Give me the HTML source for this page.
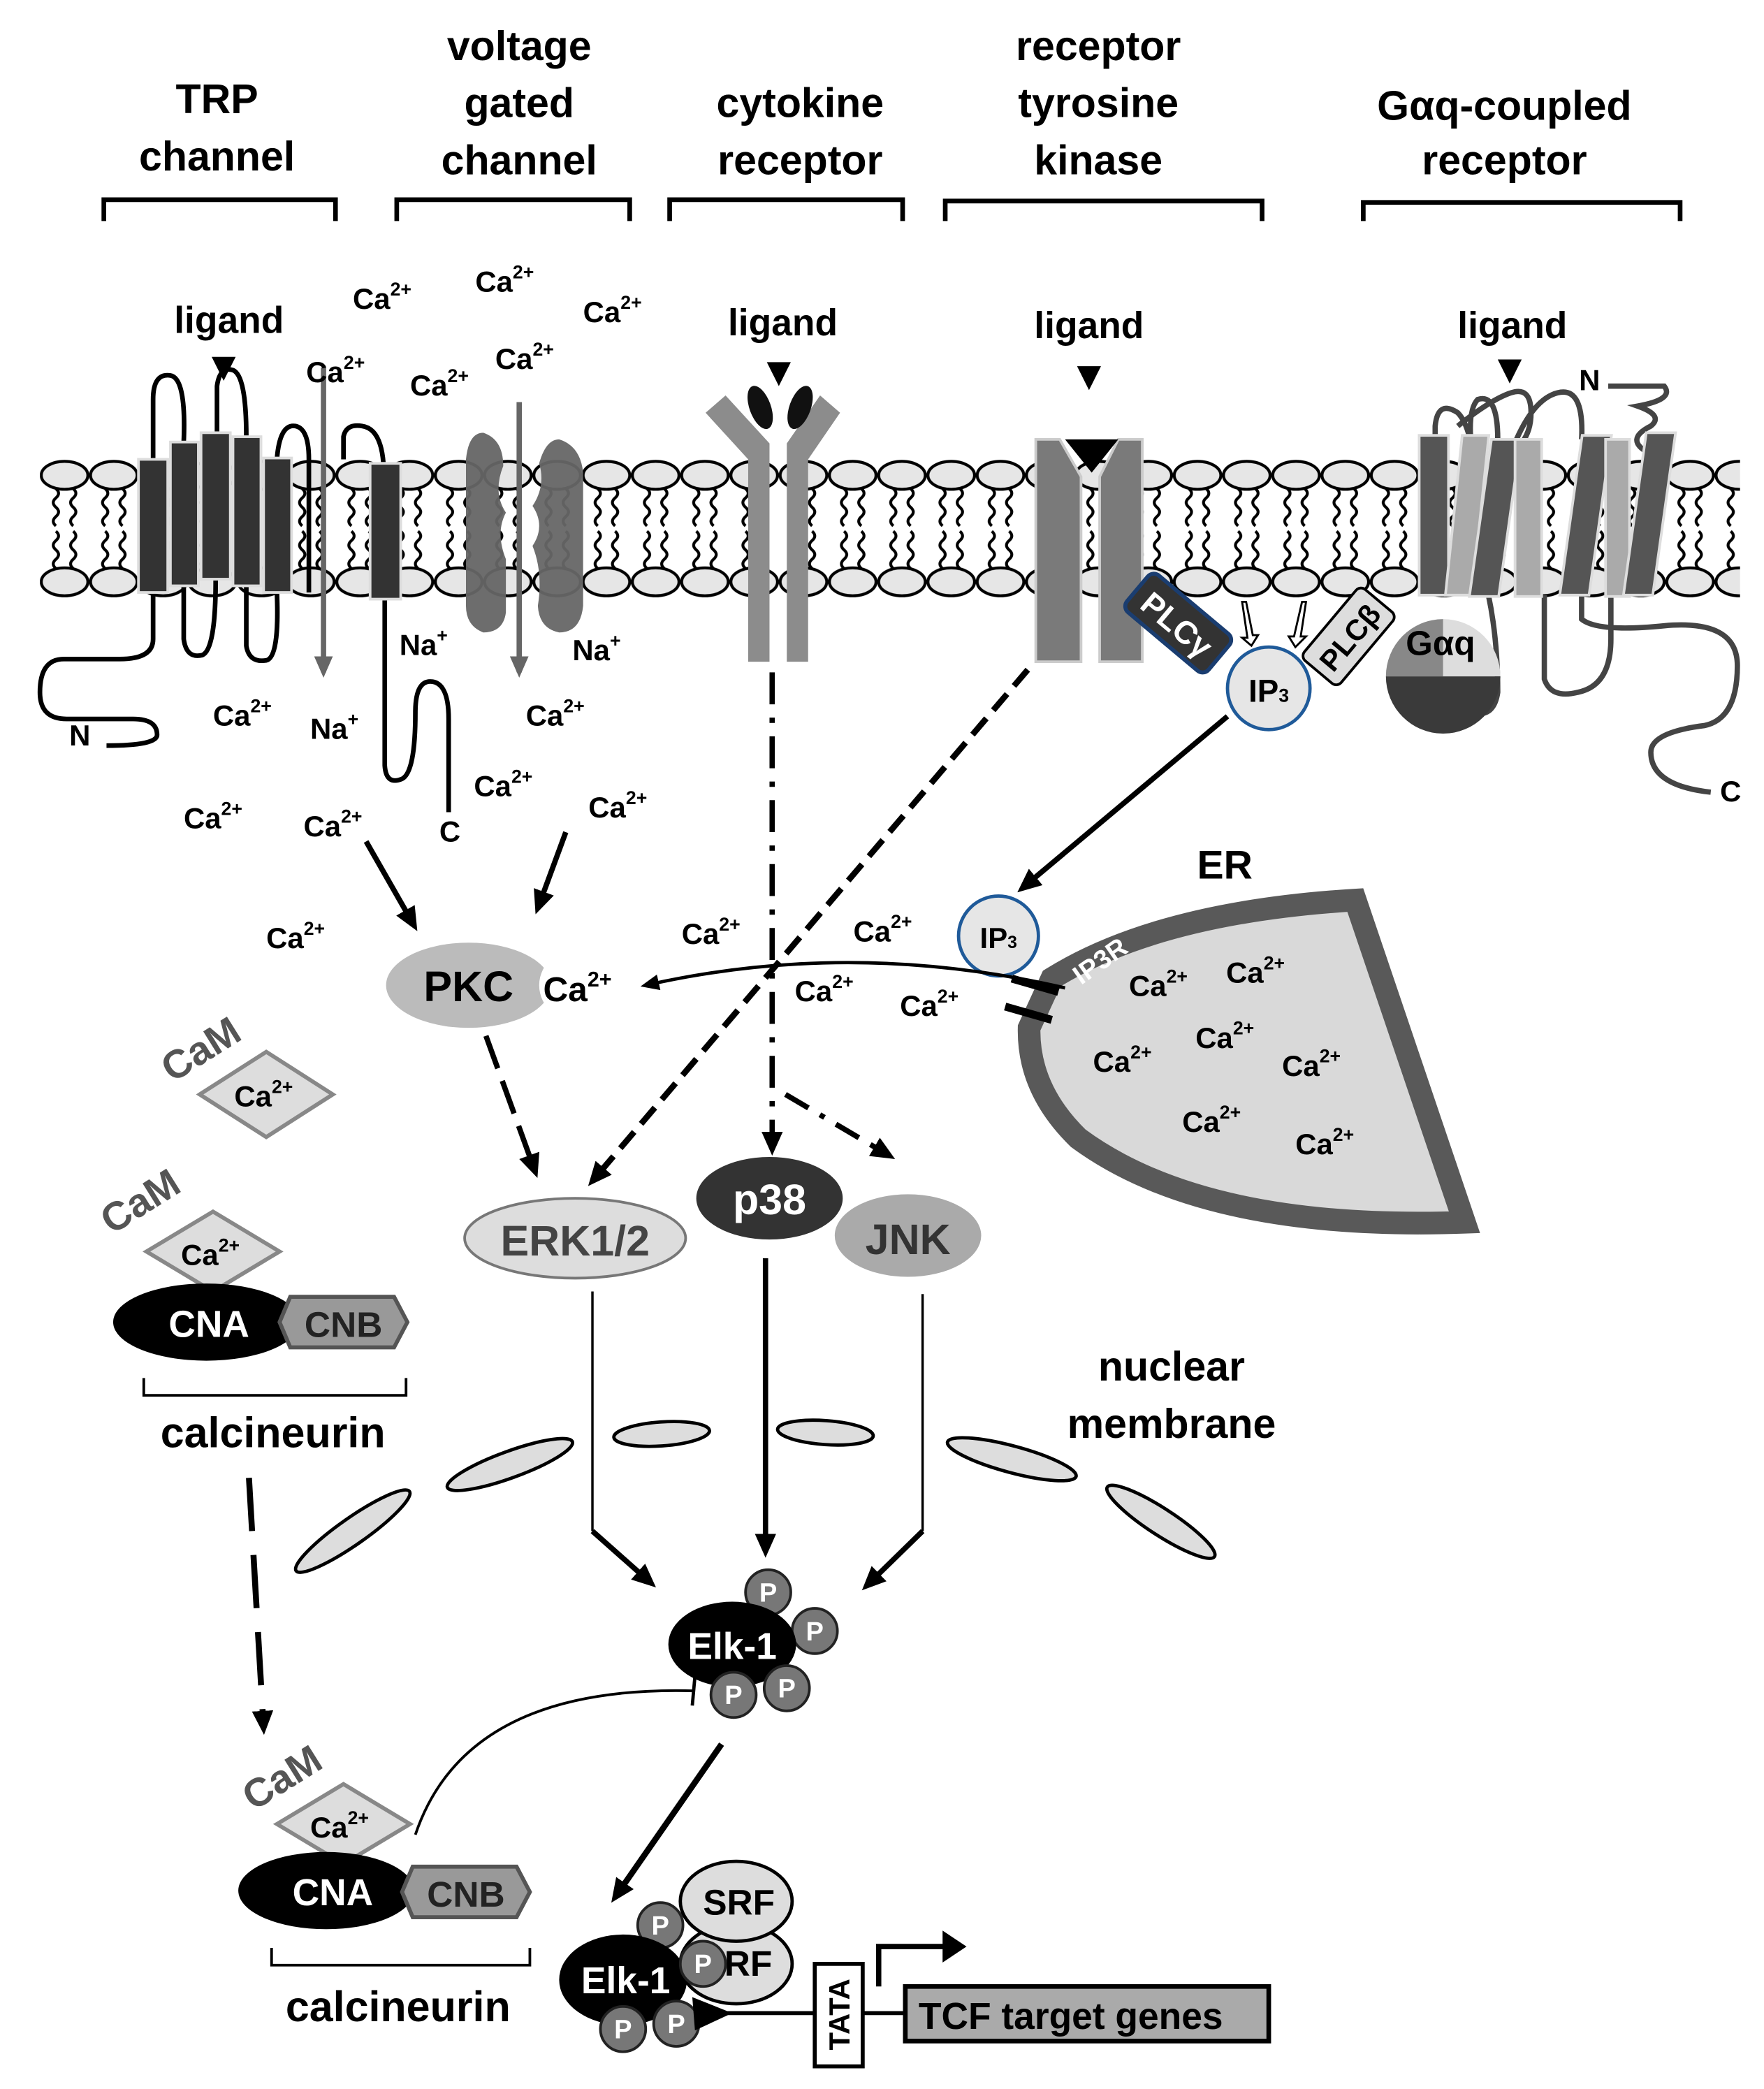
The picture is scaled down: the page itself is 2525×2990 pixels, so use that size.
<!DOCTYPE html>
<html><head><meta charset="utf-8"><style>
html,body{margin:0;padding:0;background:#fff}
svg{display:block}
text{font-family:"Liberation Sans",Arial,sans-serif;font-weight:bold}
.h{font-size:31px;text-anchor:middle}
.c{font-size:22px}
.c tspan{font-size:14px}
.l{font-size:28px;text-anchor:middle}
</style></head><body>
<svg width="2525" height="2990" viewBox="0 0 1325 1569" xmlns="http://www.w3.org/2000/svg">
<defs>
<pattern id="mem" patternUnits="userSpaceOnUse" x="30" y="345" width="37" height="104">
<path d="M12,22 q4,3.5 0,7 q-4,3.5 0,7 q4,3.5 0,7 q-4,3.5 0,7 M25,22 q4,3.5 0,7 q-4,3.5 0,7 q4,3.5 0,7 q-4,3.5 0,7 M12,54 q4,3.5 0,7 q-4,3.5 0,7 q4,3.5 0,7 q-4,3.5 0,7 M25,54 q4,3.5 0,7 q-4,3.5 0,7 q4,3.5 0,7 q-4,3.5 0,7" fill="none" stroke="#000" stroke-width="2.2"/>
<ellipse cx="18.5" cy="12" rx="17.5" ry="10.5" fill="#e6e6e6" stroke="#000" stroke-width="2.2"/>
<ellipse cx="18.5" cy="92" rx="17.5" ry="10.5" fill="#e6e6e6" stroke="#000" stroke-width="2.2"/>
</pattern>
<marker id="ah" markerWidth="18" markerHeight="16" refX="13" refY="8" orient="auto" markerUnits="userSpaceOnUse"><path d="M0,0 L18,8 L0,16 Z" fill="#000"/></marker>
<marker id="ahs" markerWidth="14" markerHeight="12" refX="10" refY="6" orient="auto" markerUnits="userSpaceOnUse"><path d="M0,0 L14,6 L0,12 Z" fill="#000"/></marker>
<marker id="ahg" markerWidth="16" markerHeight="14" refX="12" refY="7" orient="auto" markerUnits="userSpaceOnUse"><path d="M0,0 L16,7 L0,14 Z" fill="#666"/></marker>
</defs>

<!-- headers -->
<text class="h" x="163" y="85">TRP</text><text class="h" x="163" y="128">channel</text>
<text class="h" x="390" y="45">voltage</text><text class="h" x="390" y="88">gated</text><text class="h" x="390" y="131">channel</text>
<text class="h" x="601" y="88">cytokine</text><text class="h" x="601" y="131">receptor</text>
<text class="h" x="825" y="45">receptor</text><text class="h" x="825" y="88">tyrosine</text><text class="h" x="825" y="131">kinase</text>
<text class="h" x="1130" y="90">Gαq-coupled</text><text class="h" x="1130" y="131">receptor</text>
<g fill="none" stroke="#000" stroke-width="3.5">
<path d="M78,166 V150 H252 V166"/><path d="M298,166 V150 H473 V166"/><path d="M503,166 V150 H678 V166"/><path d="M710,166 V151 H948 V166"/><path d="M1024,166 V152 H1262 V166"/>
</g>
<text class="l" x="172" y="250">ligand</text><text class="l" x="588" y="252">ligand</text><text class="l" x="818" y="254">ligand</text><text class="l" x="1136" y="254">ligand</text>
<g fill="#000"><path d="M159,268 h18 l-9,18z"/><path d="M576,272 h18 l-9,18z"/><path d="M809,275 h18 l-9,18z"/><path d="M1125,270 h18 l-9,18z"/></g>

<!-- membrane -->
<rect x="30" y="345" width="1277" height="104" fill="url(#mem)"/>

<!-- TRP channel -->
<g fill="none" stroke="#000" stroke-width="3.5">
<path d="M115,345 V300 Q115,280 128,282 Q140,284 138,332"/>
<path d="M163,325 V290 Q165,275 175,278 Q185,282 185,328"/>
<path d="M138,440 V480 Q140,495 152,492 Q162,488 162,435"/>
<path d="M185,440 V485 Q187,498 200,496 Q210,494 208,445"/>
<path d="M208,345 Q210,318 222,320 Q232,322 232,345 V445"/>
<path d="M258,345 V328 Q260,318 272,320 Q286,322 288,348"/>
<path d="M115,445 V480 Q115,495 90,495 H48 Q30,495 30,520 Q30,540 50,540 H100 Q118,540 118,552 Q118,560 80,560"/>
<path d="M289,450 V575 Q290,590 302,585 Q312,580 312,535 Q312,510 325,512 Q337,514 337,540 V610"/>
</g>
<g fill="#333" stroke="#ddd" stroke-width="2">
<rect x="104" y="345" width="22" height="100"/><rect x="128" y="332" width="21" height="108"/><rect x="151" y="325" width="22" height="110"/><rect x="175" y="328" width="21" height="112"/><rect x="198" y="344" width="21" height="101"/><rect x="278" y="348" width="23" height="102"/>
</g>
<line x1="243" y1="276" x2="243" y2="505" stroke="#666" stroke-width="4" marker-end="url(#ahg)"/>
<!-- voltage gated -->
<g fill="#666" opacity="0.95">
<path d="M350,345 Q352,325 363,325 Q378,330 378,350 Q370,370 380,385 Q372,400 380,420 V460 Q378,475 363,475 Q350,470 350,455 Z"/>
<path d="M405,348 Q410,330 420,330 Q436,335 438,355 V455 Q436,475 420,475 Q405,472 404,455 Q408,430 400,410 Q410,395 400,380 Q410,365 405,348 Z"/>
</g>
<line x1="390" y1="302" x2="390" y2="505" stroke="#666" stroke-width="4" marker-end="url(#ahg)"/>
<!-- cytokine -->
<g fill="#8c8c8c">
<path d="M530,310 L545,297 L578,333 V497 H562 V345 Z"/>
<path d="M631,310 L616,297 L591,333 V497 H607 V345 Z"/>
</g>
<ellipse cx="571" cy="306" rx="8" ry="17" transform="rotate(-20 571 306)" fill="#111"/>
<ellipse cx="601" cy="306" rx="8" ry="17" transform="rotate(20 601 306)" fill="#111"/>
<!-- RTK -->
<g fill="#7a7a7a" stroke="#ccc" stroke-width="2">
<path d="M778,330 H796 L812,358 V497 H778 Z"/><path d="M858,330 H840 L826,358 V497 H858 Z"/>
</g>
<path d="M800,330 H840 L820,355 Z" fill="#000"/>
<!-- PLC -->
<g transform="rotate(40 885 468)"><rect x="845" y="450" width="80" height="36" rx="6" fill="#333" stroke="#1a3d70" stroke-width="3"/><text x="885" y="478" font-size="24" fill="#fff" text-anchor="middle">PLCγ</text></g>
<g transform="rotate(-50 1013 478)"><rect x="978" y="460" width="70" height="36" rx="5" fill="#ddd" stroke="#000" stroke-width="2"/><text x="1013" y="487" font-size="22" text-anchor="middle">PLCβ</text></g>
<g fill="#fff" stroke="#000" stroke-width="1.5"><path d="M933,452 l3,0 l5,25 l4,0 l-5,8 l-7,-6 l4,0 z"/><path d="M978,452 l3,0 l-4,26 l4,0 l-8,8 l-5,-8 l4,0 z"/></g>
<circle cx="953" cy="517" r="31" fill="#e6e6e6" stroke="#1f5a99" stroke-width="2.5"/>
<text x="953" y="527" font-size="24" text-anchor="middle">IP<tspan font-size="14">3</tspan></text>
<!-- GPCR -->
<g fill="none" stroke="#444" stroke-width="4">
<path d="M1078,340 V320 Q1080,300 1095,310 Q1105,320 1108,355 Q1100,310 1110,300 Q1125,295 1125,330"/>
<path d="M1095,320 Q1120,300 1135,295 Q1150,290 1150,310 Q1150,330 1135,340 Q1150,300 1170,295 Q1190,290 1188,330"/>
<path d="M1208,290 H1250 Q1258,300 1230,305 Q1250,312 1240,320 Q1220,330 1238,340"/>
<path d="M1118,447 Q1125,480 1125,520 Q1122,540 1105,535"/>
<path d="M1160,447 V510 Q1165,525 1185,520 Q1210,515 1210,480 V447"/>
<path d="M1188,447 V465 Q1200,475 1250,470 Q1305,465 1305,500 Q1305,540 1280,545 Q1240,550 1240,565 Q1240,590 1285,595"/>
</g>
<g stroke="#ddd" stroke-width="2">
<rect x="1066" y="327" width="22" height="120" fill="#555"/>
<rect x="1092" y="327" width="20" height="120" fill="#aaa" transform="skewX(-6)" transform-origin="1100 387"/>
<rect x="1112" y="330" width="22" height="118" fill="#555" transform="skewX(-8)" transform-origin="1123 389"/>
<rect x="1138" y="330" width="20" height="118" fill="#aaa"/>
<rect x="1180" y="327" width="22" height="120" fill="#555" transform="skewX(-8)" transform-origin="1191 387"/>
<rect x="1206" y="330" width="18" height="118" fill="#aaa"/>
<rect x="1228" y="325" width="22" height="122" fill="#555" transform="skewX(-8)" transform-origin="1239 386"/>
</g>
<path d="M1041,508 A43,43 0 0 1 1084,465 V508 Z" fill="#888"/>
<path d="M1084,465 A43,43 0 0 1 1127,508 H1084 Z" fill="#ddd"/>
<path d="M1041,508 A43,43 0 0 0 1127,508 Z" fill="#3a3a3a"/>
<text x="1082" y="492" font-size="26" text-anchor="middle">Gαq</text>

<!-- labels -->
<g>
<text class="c" x="265" y="232">Ca<tspan dy="-10">2+</tspan></text>
<text class="c" x="357" y="219">Ca<tspan dy="-10">2+</tspan></text>
<text class="c" x="438" y="242">Ca<tspan dy="-10">2+</tspan></text>
<text class="c" x="230" y="287">Ca<tspan dy="-10">2+</tspan></text>
<text class="c" x="308" y="297">Ca<tspan dy="-10">2+</tspan></text>
<text class="c" x="372" y="277">Ca<tspan dy="-10">2+</tspan></text>
<text class="c" x="160" y="545">Ca<tspan dy="-10">2+</tspan></text>
<text class="c" x="395" y="545">Ca<tspan dy="-10">2+</tspan></text>
<text class="c" x="356" y="598">Ca<tspan dy="-10">2+</tspan></text>
<text class="c" x="138" y="622">Ca<tspan dy="-10">2+</tspan></text>
<text class="c" x="228" y="628">Ca<tspan dy="-10">2+</tspan></text>
<text class="c" x="442" y="614">Ca<tspan dy="-10">2+</tspan></text>
<text class="c" x="200" y="712">Ca<tspan dy="-10">2+</tspan></text>
<text class="c" x="512" y="709">Ca<tspan dy="-10">2+</tspan></text>
<text class="c" x="641" y="707">Ca<tspan dy="-10">2+</tspan></text>
<text class="c" x="597" y="752">Ca<tspan dy="-10">2+</tspan></text>
<text class="c" x="676" y="763">Ca<tspan dy="-10">2+</tspan></text>
<text class="c" x="300" y="492">Na<tspan dy="-10">+</tspan></text>
<text class="c" x="430" y="496">Na<tspan dy="-10">+</tspan></text>
<text class="c" x="233" y="555">Na<tspan dy="-10">+</tspan></text>
</g>
<text x="52" y="560" font-size="22">N</text><text x="330" y="632" font-size="22">C</text>
<text x="1292" y="602" font-size="22">C</text><text x="1186" y="293" font-size="22">N</text>

<!-- ER -->
<path d="M790,735 Q870,685 1018,676 L1100,918 Q905,925 810,855 Q772,818 773,772 Z" fill="#d9d9d9" stroke="#595959" stroke-width="17" stroke-linejoin="miter"/>
<text x="920" y="660" font-size="30" text-anchor="middle">ER</text>
<text x="800" y="730" font-size="20" fill="#fff" transform="rotate(-35 822 716)">IP3R</text>
<g stroke="#000"><line x1="760" y1="735" x2="795" y2="745" stroke-width="6"/><line x1="755" y1="756" x2="790" y2="766" stroke-width="6"/></g>
<circle cx="750" cy="703" r="30" fill="#e6e6e6" stroke="#1f5a99" stroke-width="2.5"/>
<text x="750" y="712" font-size="22" text-anchor="middle">IP<tspan font-size="13">3</tspan></text>
<g>
<text class="c" x="848" y="748">Ca<tspan dy="-10">2+</tspan></text>
<text class="c" x="921" y="738">Ca<tspan dy="-10">2+</tspan></text>
<text class="c" x="898" y="787">Ca<tspan dy="-10">2+</tspan></text>
<text class="c" x="821" y="805">Ca<tspan dy="-10">2+</tspan></text>
<text class="c" x="963" y="808">Ca<tspan dy="-10">2+</tspan></text>
<text class="c" x="888" y="850">Ca<tspan dy="-10">2+</tspan></text>
<text class="c" x="973" y="867">Ca<tspan dy="-10">2+</tspan></text>
</g>

<!-- arrows upper -->
<g stroke="#000" fill="none">
<line x1="275" y1="632" x2="311" y2="695" stroke-width="4" marker-end="url(#ah)"/>
<line x1="425" y1="625" x2="404" y2="682" stroke-width="4" marker-end="url(#ah)"/>
<line x1="922" y1="538" x2="768" y2="667" stroke-width="4" marker-end="url(#ah)"/>
<path d="M800,742 Q640,705 485,740" stroke-width="2.5" marker-end="url(#ahs)"/>
<line x1="580" y1="505" x2="580" y2="863" stroke-width="4" stroke-dasharray="24,10,4,10" marker-end="url(#ah)"/>
<line x1="590" y1="822" x2="668" y2="868" stroke-width="4" stroke-dasharray="20,10,4,10" marker-end="url(#ah)"/>
<line x1="772" y1="503" x2="445" y2="887" stroke-width="4.5" stroke-dasharray="16,8" marker-end="url(#ah)"/>
<line x1="365" y1="778" x2="402" y2="880" stroke-width="4" stroke-dasharray="26,10" marker-end="url(#ah)"/>
</g>

<!-- PKC -->
<ellipse cx="352" cy="740" rx="62" ry="32" fill="#bbb"/>
<ellipse cx="440" cy="740" rx="35" ry="30" fill="#fff"/>
<text x="352" y="752" font-size="32" text-anchor="middle">PKC</text>
<text class="c" x="408" y="752" style="font-size:26px">Ca<tspan dy="-11" style="font-size:16px">2+</tspan></text>

<!-- MAPKs -->
<ellipse cx="432" cy="930" rx="83" ry="30" fill="#ddd" stroke="#777" stroke-width="2"/>
<text x="432" y="943" font-size="32" fill="#444" text-anchor="middle">ERK1/2</text>
<ellipse cx="578" cy="900" rx="55" ry="31" fill="#333"/>
<text x="578" y="912" font-size="32" fill="#fff" text-anchor="middle">p38</text>
<ellipse cx="682" cy="928" rx="55" ry="31" fill="#aaa"/>
<text x="682" y="942" font-size="32" fill="#333" text-anchor="middle">JNK</text>

<!-- CaM groups -->
<text x="152" y="798" font-size="30" fill="#555" text-anchor="middle" transform="rotate(-32 152 790)">CaM</text>
<path d="M150,822 L200,790 L250,822 L200,854 Z" fill="#ddd" stroke="#888" stroke-width="3"/>
<text class="c" x="176" y="831">Ca<tspan dy="-10">2+</tspan></text>

<text x="107" y="912" font-size="30" fill="#555" text-anchor="middle" transform="rotate(-32 107 905)">CaM</text>
<path d="M110,940 L160,910 L210,940 L160,970 Z" fill="#ddd" stroke="#888" stroke-width="3"/>
<text class="c" x="136" y="950">Ca<tspan dy="-10">2+</tspan></text>
<ellipse cx="155" cy="993" rx="70" ry="29" fill="#000"/>
<text x="157" y="1004" font-size="28" fill="#fff" text-anchor="middle">CNA</text>
<path d="M218,974 H296 L306,993 L296,1012 H218 L210,993 Z" fill="#999" stroke="#555" stroke-width="3"/>
<text x="258" y="1004" font-size="27" fill="#222" text-anchor="middle">CNB</text>
<path d="M108,1035 V1048 H305 V1035" fill="none" stroke="#000" stroke-width="2"/>
<text x="205" y="1087" font-size="32" text-anchor="middle">calcineurin</text>

<line x1="187" y1="1110" x2="198" y2="1298" stroke="#000" stroke-width="4.5" stroke-dasharray="40,18" marker-end="url(#ah)"/>

<text x="213" y="1345" font-size="30" fill="#555" text-anchor="middle" transform="rotate(-32 213 1337)">CaM</text>
<path d="M208,1370 L258,1340 L308,1370 L258,1400 Z" fill="#ddd" stroke="#888" stroke-width="3"/>
<text class="c" x="233" y="1380">Ca<tspan dy="-10">2+</tspan></text>
<ellipse cx="245" cy="1420" rx="66" ry="29" fill="#000"/>
<text x="250" y="1431" font-size="28" fill="#fff" text-anchor="middle">CNA</text>
<path d="M310,1402 H388 L398,1421 L388,1440 H310 L302,1421 Z" fill="#999" stroke="#555" stroke-width="3"/>
<text x="350" y="1432" font-size="27" fill="#222" text-anchor="middle">CNB</text>
<path d="M204,1463 V1476 H398 V1463" fill="none" stroke="#000" stroke-width="2"/>
<text x="299" y="1518" font-size="32" text-anchor="middle">calcineurin</text>
<path d="M312,1378 Q350,1265 522,1270" fill="none" stroke="#000" stroke-width="2"/>
<line x1="522" y1="1259" x2="520" y2="1281" stroke="#000" stroke-width="2.5"/>

<!-- nuclear membrane -->
<g fill="#ddd" stroke="#000" stroke-width="2.5">
<ellipse cx="265" cy="1150" rx="52" ry="10" transform="rotate(-35 265 1150)"/>
<ellipse cx="383" cy="1100" rx="50" ry="10" transform="rotate(-20 383 1100)"/>
<ellipse cx="497" cy="1077" rx="36" ry="9" transform="rotate(-4 497 1077)"/>
<ellipse cx="620" cy="1076" rx="36" ry="9" transform="rotate(4 620 1076)"/>
<ellipse cx="760" cy="1096" rx="50" ry="10" transform="rotate(15 760 1096)"/>
<ellipse cx="872" cy="1143" rx="48" ry="10" transform="rotate(33 872 1143)"/>
</g>
<text x="880" y="1037" font-size="31" text-anchor="middle">nuclear</text>
<text x="880" y="1080" font-size="31" text-anchor="middle">membrane</text>

<g stroke="#000" fill="none">
<path d="M445,970 V1150" stroke-width="1.8"/><line x1="445" y1="1150" x2="489" y2="1189" stroke-width="4" marker-end="url(#ah)"/>
<line x1="575" y1="945" x2="575" y2="1165" stroke-width="4" marker-end="url(#ah)"/>
<path d="M693,972 V1150" stroke-width="1.8"/><line x1="693" y1="1150" x2="651" y2="1191" stroke-width="4" marker-end="url(#ah)"/>
<line x1="542" y1="1310" x2="462" y2="1425" stroke-width="4.5" marker-end="url(#ah)"/>
</g>

<!-- Elk-1 top -->
<g stroke="#222" stroke-width="2" fill="#777">
<circle cx="577" cy="1196" r="17"/><circle cx="612" cy="1225" r="17"/>
</g>
<ellipse cx="550" cy="1235" rx="48" ry="32" fill="#000"/>
<g stroke="#222" stroke-width="2" fill="#777"><circle cx="551" cy="1273" r="17"/><circle cx="591" cy="1268" r="17"/></g>
<text x="550" y="1246" font-size="28" fill="#fff" text-anchor="middle">Elk-1</text>
<g font-size="20" fill="#fff" text-anchor="middle"><text x="577" y="1203">P</text><text x="612" y="1232">P</text><text x="551" y="1280">P</text><text x="591" y="1275">P</text></g>

<!-- bottom complex -->
<g stroke="#000" stroke-width="2.5" fill="#ddd">
<ellipse cx="553" cy="1475" rx="42" ry="30"/><ellipse cx="553" cy="1428" rx="42" ry="30"/>
</g>
<text x="555" y="1438" font-size="27" text-anchor="middle">SRF</text>
<text x="562" y="1484" font-size="27" text-anchor="middle">RF</text>
<circle cx="496" cy="1446" r="17" fill="#777" stroke="#222" stroke-width="2"/>
<ellipse cx="468" cy="1487" rx="48" ry="34" fill="#000"/>
<g stroke="#222" stroke-width="2" fill="#777"><circle cx="528" cy="1475" r="17"/><circle cx="468" cy="1524" r="17"/><circle cx="508" cy="1520" r="17"/></g>
<text x="470" y="1497" font-size="28" fill="#fff" text-anchor="middle">Elk-1</text>
<g font-size="20" fill="#fff" text-anchor="middle"><text x="496" y="1453">P</text><text x="528" y="1482">P</text><text x="468" y="1531">P</text><text x="508" y="1527">P</text></g>
<line x1="530" y1="1512" x2="682" y2="1512" stroke="#000" stroke-width="3"/>
<path d="M520,1500 L550,1512 L522,1525 Z" fill="#000"/>
<rect x="612" y="1475" width="36" height="77" fill="#fff" stroke="#000" stroke-width="3"/>
<text x="630" y="1521" font-size="22" text-anchor="middle" transform="rotate(-90 630 1513)">TATA</text>
<path d="M660,1492 V1462 H712" fill="none" stroke="#000" stroke-width="4"/>
<path d="M708,1450 L726,1462 L708,1474 Z" fill="#000"/>
<rect x="680" y="1492" width="273" height="41" fill="#aaa" stroke="#000" stroke-width="3.5"/>
<text x="690" y="1524" font-size="28">TCF target genes</text>
</svg>
</body></html>
